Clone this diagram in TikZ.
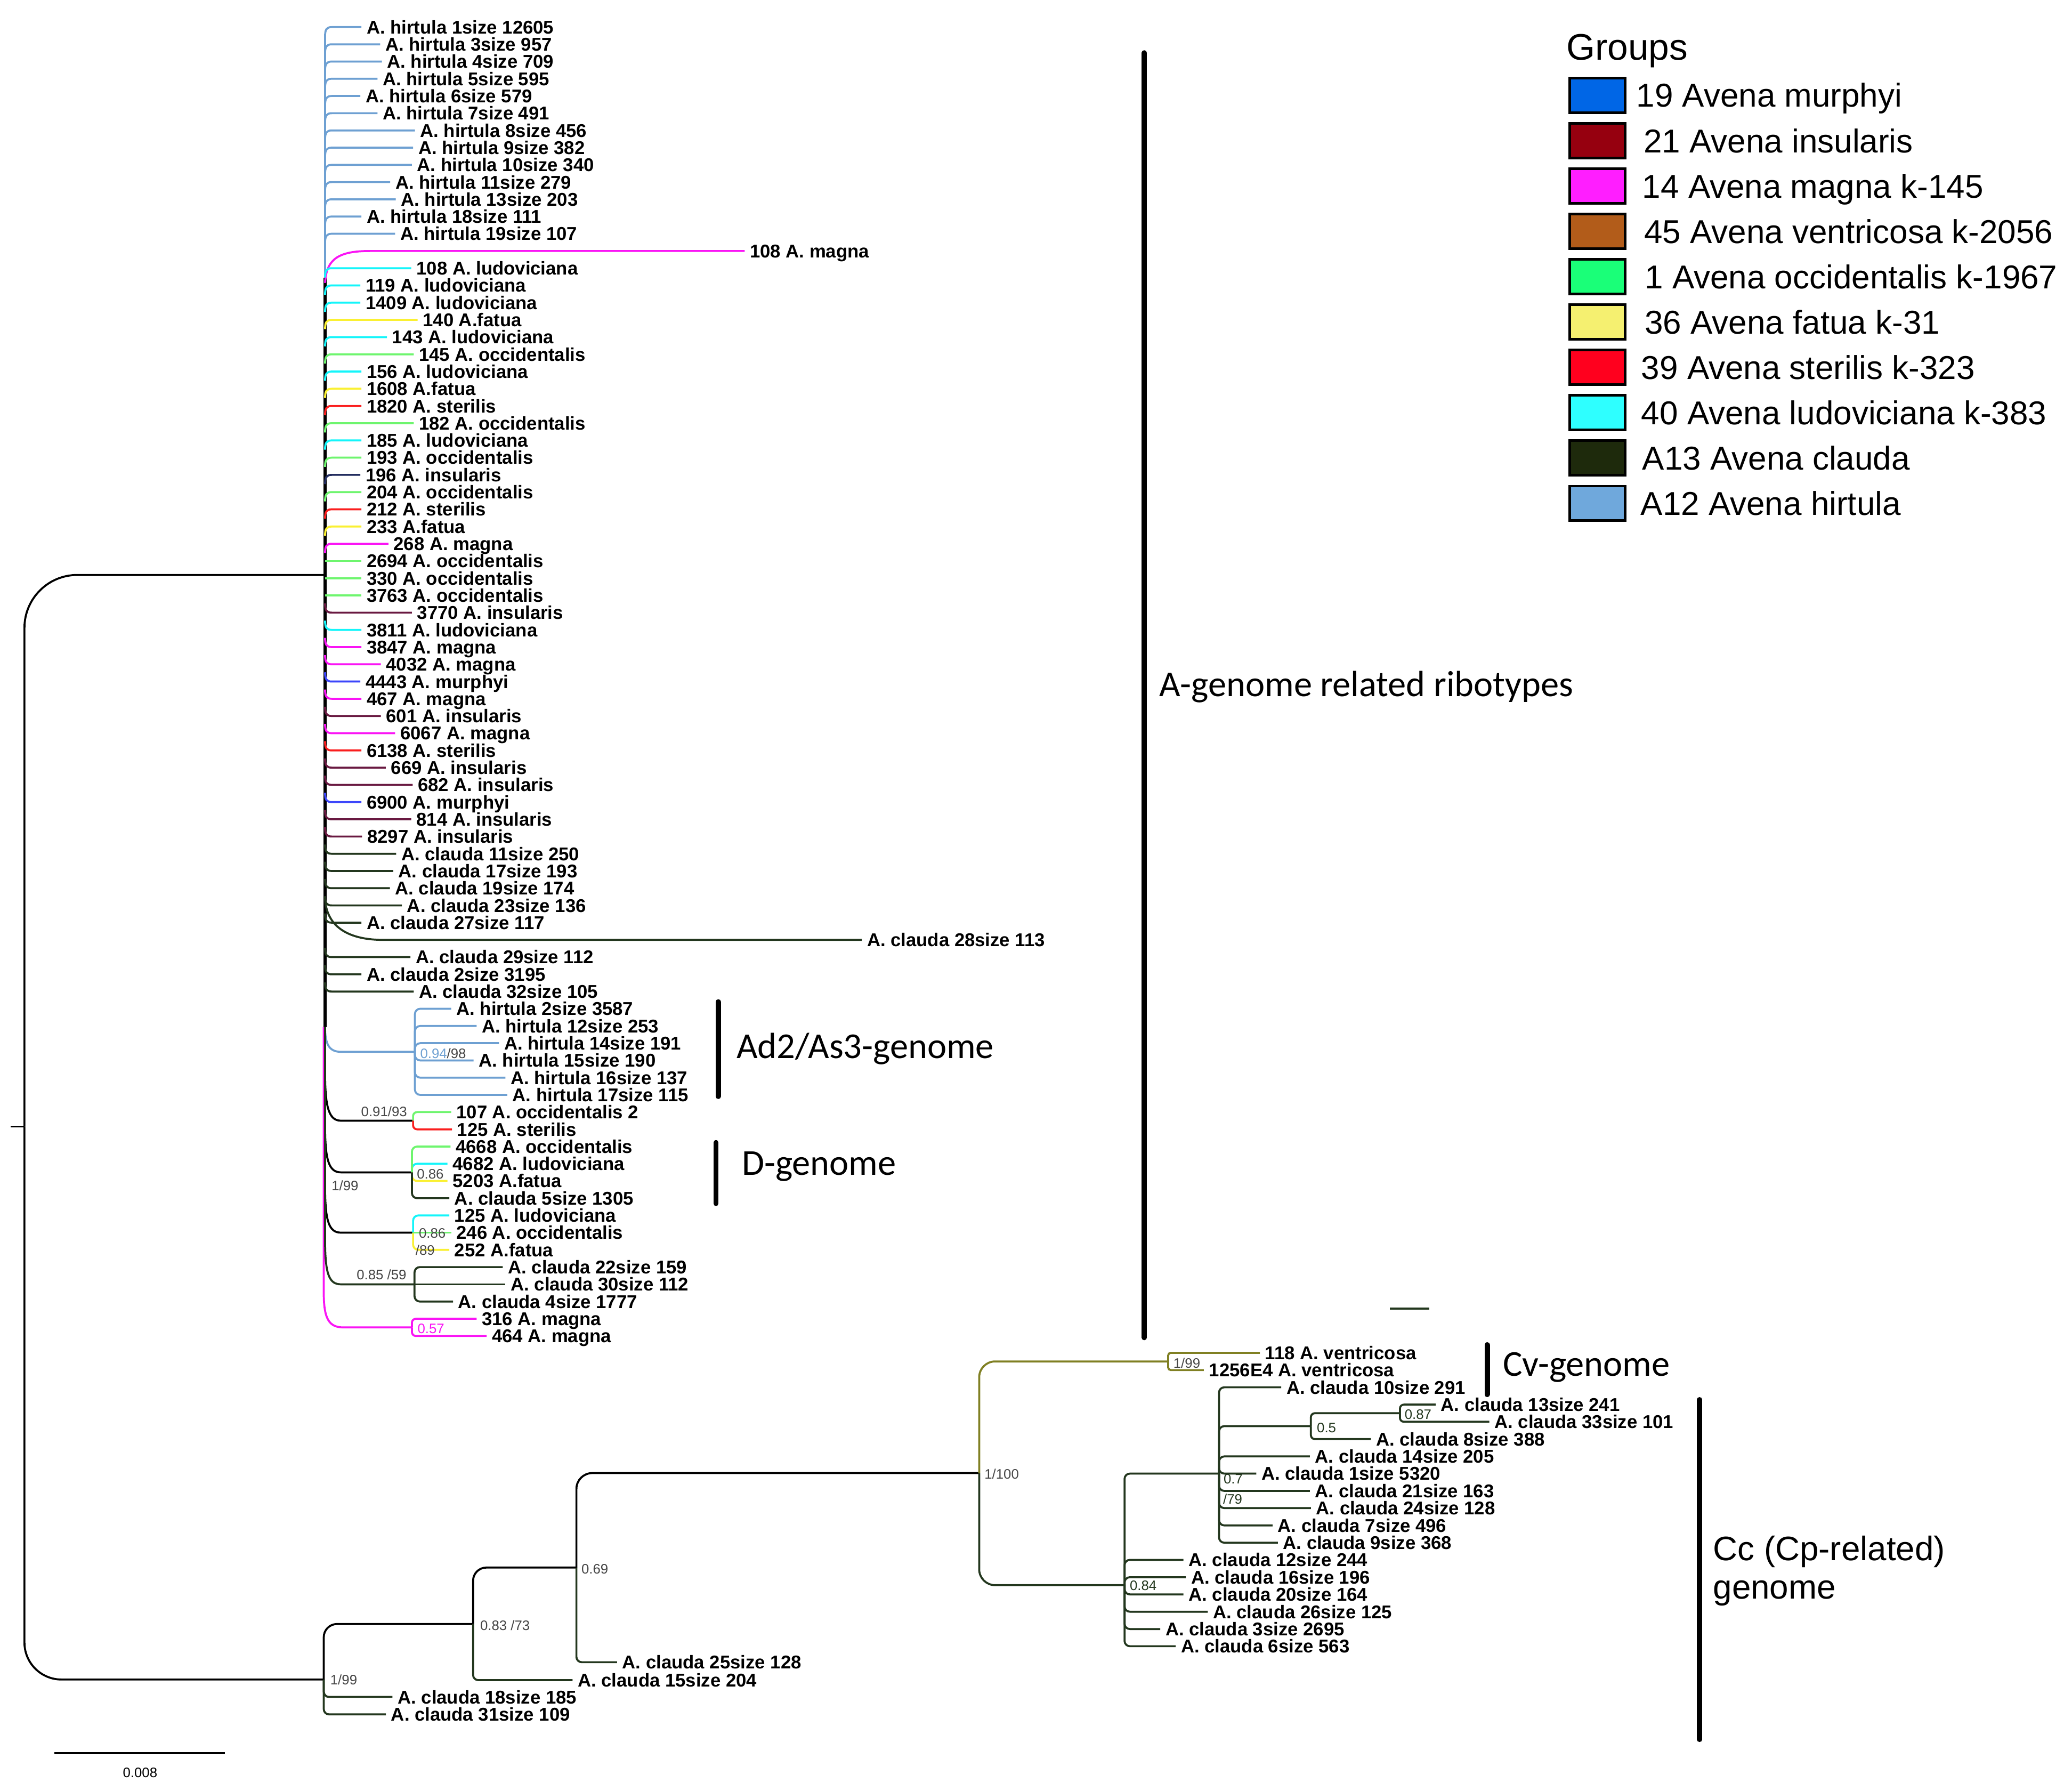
\documentclass[tikz,border=0pt]{standalone}
\usepackage{fontspec}
\setmainfont{Liberation Sans}
\newfontfamily\carl{Carlito}
\definecolor{hirt}{RGB}{110,160,210}
\definecolor{cyn}{RGB}{20,245,250}
\definecolor{yel}{RGB}{250,240,50}
\definecolor{grn}{RGB}{110,245,110}
\definecolor{rd}{RGB}{250,30,30}
\definecolor{mag}{RGB}{250,20,245}
\definecolor{cnavy}{RGB}{35,45,95}
\definecolor{insul}{RGB}{105,25,65}
\definecolor{murph}{RGB}{60,70,250}
\definecolor{cgrn}{RGB}{35,55,30}
\definecolor{oliv}{RGB}{128,128,35}
\definecolor{supg}{RGB}{70,70,70}
\definecolor{L1}{RGB}{0,102,230}
\definecolor{L2}{RGB}{150,0,15}
\definecolor{L3}{RGB}{255,30,255}
\definecolor{L4}{RGB}{178,92,26}
\definecolor{L5}{RGB}{26,255,120}
\definecolor{L6}{RGB}{245,240,112}
\definecolor{L7}{RGB}{255,0,30}
\definecolor{L8}{RGB}{46,255,255}
\definecolor{L9}{RGB}{30,42,12}
\definecolor{L10}{RGB}{111,168,220}
\newcommand\lfont{\bfseries\fontsize{7}{8}\selectfont}
\newcommand\sfontx{\fontsize{5.2}{6}\selectfont}
\tikzset{
 br/.style={line width=0.75pt},
 lab/.style={font=\lfont, anchor=west, inner xsep=2pt, inner ysep=0pt, outer sep=0pt, text height=6.41pt, text depth=1.4pt},
 supp/.style={font=\sfontx, text=supg, inner sep=0pt, outer sep=0pt, anchor=west, text height=3.72pt, text depth=0pt},
 gbar/.style={line width=2pt, line cap=round},
 big/.style={font=\carl\fontsize{13.8}{16}\selectfont, anchor=west, inner sep=0pt, text height=11.9pt, text depth=3pt},
 legt/.style={font=\fontsize{12.5}{14}\selectfont, anchor=west, inner sep=0pt, text height=11.45pt, text depth=2.5pt},
 swatch/.style={draw=black, line width=1pt, minimum width=21pt, minimum height=13pt, inner sep=0pt},
}
\newcommand\Aleaf[5]{%
  \pgfmathsetmacro\yy{20.5+13.03*#2}%
  \node[lab] (#1) at (#3,\yy) {#5};%
  \pgfmathtruncatemacro\side{\yy<415 ? 1 : (\yy>455 ? -1 : 0)}%
  \ifnum\side=0
    \draw[br,#4] (246,\yy) -- (#1.west);%
  \else
    \draw[br,#4] (246,{\yy+7*\side}) .. controls (246,{\yy+2*\side}) and (247,\yy) .. (251,\yy) -- (#1.west);%
  \fi}
\newcommand\Lf[4]{\node[lab] (#1) at (#2,#3) {#4};}
\begin{document}
\begin{tikzpicture}[x=0.5pt,y=-0.5pt]
\useasboundingbox (0,0) rectangle (1568,1355);
\fill[white] (0,0) rectangle (1568,1355);

% ---------- coordinates of inner nodes ----------
\coordinate (stub) at (8,852.3);
\coordinate (nR) at (18.5,852.3);
\coordinate (nA) at (246,435);
\coordinate (vHt) at (246,26);
\coordinate (vHb) at (246,212);
\coordinate (vBt) at (246,210);
\coordinate (vBb) at (246,777);
\coordinate (vM) at (245,777);
\coordinate (nAd) at (314,795.8);
\coordinate (n91) at (312.6,847.9);
\coordinate (nD) at (311.7,887);
\coordinate (n86) at (312.6,932.6);
\coordinate (n85) at (313.7,971.7);
\coordinate (n57) at (311.7,1004.3);
\coordinate (n99b) at (245,1270.7);
\coordinate (n83) at (358,1228.7);
\coordinate (n69) at (436.2,1186);
\coordinate (n100) at (741,1114.5);
\coordinate (nCv) at (884,1030.05);
\coordinate (n84) at (851,1199.3);
\coordinate (n7) at (922.5,1114.9);
\coordinate (n5) at (992,1079);
\coordinate (n87) at (1059.4,1069.2);

% ---------- root ----------
\draw[br] (stub) -- (nR);
\draw[br,rounded corners=20pt] (nR) |- (nA);
\draw[br,rounded corners=14pt] (nR) |- (n99b);

% ---------- A clade verticals ----------
\draw[line width=0.95pt,hirt] (vHt) -- (vHb);
\draw[line width=1.25pt] (vBt) -- (vBb);

% ---------- A clade leaves ----------
\Aleaf{h1}{0}{273.5}{hirt}{A. hirtula 1size 12605}
\Aleaf{h3}{1}{287.7}{hirt}{A. hirtula 3size 957}
\Aleaf{h4}{2}{289}{hirt}{A. hirtula 4size 709}
\Aleaf{h5}{3}{285.7}{hirt}{A. hirtula 5size 595}
\Aleaf{h6}{4}{272.7}{hirt}{A. hirtula 6size 579}
\Aleaf{h7}{5}{285.7}{hirt}{A. hirtula 7size 491}
\Aleaf{h8}{6}{314}{hirt}{A. hirtula 8size 456}
\Aleaf{h9}{7}{312.6}{hirt}{A. hirtula 9size 382}
\Aleaf{h10}{8}{311.7}{hirt}{A. hirtula 10size 340}
\Aleaf{h11}{9}{295.3}{hirt}{A. hirtula 11size 279}
\Aleaf{h13}{10}{299.5}{hirt}{A. hirtula 13size 203}
\Aleaf{h18}{11}{273.5}{hirt}{A. hirtula 18size 111}
\Aleaf{h19}{12}{299}{hirt}{A. hirtula 19size 107}
\node[lab] (m108) at (563.5,189.9) {108 A. magna};
\draw[br,mag] (246,214) .. controls (247,196) and (256,189.9) .. (280,189.9) -- (m108.west);
\Aleaf{l108}{14}{311.2}{cyn}{108 A. ludoviciana}
\Aleaf{l119}{15}{272.7}{cyn}{119 A. ludoviciana}
\Aleaf{l1409}{16}{272.7}{cyn}{1409 A. ludoviciana}
\Aleaf{f140}{17}{316}{yel}{140 A.fatua}
\Aleaf{l143}{18}{292.8}{cyn}{143 A. ludoviciana}
\Aleaf{o145}{19}{313.1}{grn}{145 A. occidentalis}
\Aleaf{l156}{20}{273.5}{cyn}{156 A. ludoviciana}
\Aleaf{f1608}{21}{273.5}{yel}{1608 A.fatua}
\Aleaf{s1820}{22}{273.5}{rd}{1820 A. sterilis}
\Aleaf{o182}{23}{313.1}{grn}{182 A. occidentalis}
\Aleaf{l185}{24}{273.5}{cyn}{185 A. ludoviciana}
\Aleaf{o193}{25}{273.5}{grn}{193 A. occidentalis}
\Aleaf{i196}{26}{272.7}{cnavy}{196 A. insularis}
\Aleaf{o204}{27}{273.5}{grn}{204 A. occidentalis}
\Aleaf{s212}{28}{273.5}{rd}{212 A. sterilis}
\Aleaf{f233}{29}{273.5}{yel}{233 A.fatua}
\Aleaf{m268}{30}{293.9}{mag}{268 A. magna}
\Aleaf{o2694}{31}{273.5}{grn}{2694 A. occidentalis}
\Aleaf{o330}{32}{273.5}{grn}{330 A. occidentalis}
\Aleaf{o3763}{33}{273.5}{grn}{3763 A. occidentalis}
\Aleaf{i3770}{34}{311.7}{insul}{3770 A. insularis}
\Aleaf{l3811}{35}{273.5}{cyn}{3811 A. ludoviciana}
\Aleaf{m3847}{36}{273.5}{mag}{3847 A. magna}
\Aleaf{m4032}{37}{288.2}{mag}{4032 A. magna}
\Aleaf{u4443}{38}{272.7}{murph}{4443 A. murphyi}
\Aleaf{m467}{39}{273.5}{mag}{467 A. magna}
\Aleaf{i601}{40}{288.2}{insul}{601 A. insularis}
\Aleaf{m6067}{41}{299}{mag}{6067 A. magna}
\Aleaf{s6138}{42}{273.5}{rd}{6138 A. sterilis}
\Aleaf{i669}{43}{291.9}{insul}{669 A. insularis}
\Aleaf{i682}{44}{312.3}{insul}{682 A. insularis}
\Aleaf{u6900}{45}{273.5}{murph}{6900 A. murphyi}
\Aleaf{i814}{46}{311.2}{insul}{814 A. insularis}
\Aleaf{i8297}{47}{274}{insul}{8297 A. insularis}
\Aleaf{ca11}{48}{299.8}{cgrn}{A. clauda 11size 250}
\Aleaf{ca17}{49}{297.6}{cgrn}{A. clauda 17size 193}
\Aleaf{ca19}{50}{295.1}{cgrn}{A. clauda 19size 174}
\Aleaf{ca23}{51}{304.1}{cgrn}{A. clauda 23size 136}
\Aleaf{ca27}{52}{273.5}{cgrn}{A. clauda 27size 117}
\node[lab] (ca28) at (652.2,711.1) {A. clauda 28size 113};
\draw[br,cgrn] (246,680) .. controls (247,700) and (262,711.1) .. (290,711.1) -- (ca28.west);
\Aleaf{ca29}{54}{310.6}{cgrn}{A. clauda 29size 112}
\Aleaf{ca2}{55}{273.5}{cgrn}{A. clauda 2size 3195}
\Aleaf{ca32}{56}{313.1}{cgrn}{A. clauda 32size 105}

% ---------- sub-clades of A ----------
\draw[br,mag] (vM) -- (245,978) .. controls (245,998) and (249,1004.3) .. (260,1004.3) -- (n57);
\draw[br,hirt] (vBb) .. controls (246,790) and (249,795.8) .. (258,795.8) -- (nAd);
\draw[br] (vBb) -- (246,812) .. controls (246,838) and (249,847.9) .. (258,847.9) -- (n91);
\draw[br] (vBb) -- (246,852) .. controls (246,878) and (249,887) .. (258,887) -- (nD);
\draw[br] (vBb) -- (246,898) .. controls (246,924) and (249,932.6) .. (258,932.6) -- (n86);
\draw[br,cgrn] (vBb) -- (246,938) .. controls (246,964) and (249,971.7) .. (258,971.7) -- (n85);

% Ad2/As3
\Lf{h2}{341.4}{763.21}{A. hirtula 2size 3587}
\Lf{h12}{360.7}{776.24}{A. hirtula 12size 253}
\Lf{h14}{377.6}{789.27}{A. hirtula 14size 191}
\Lf{h15}{358.4}{802.30}{A. hirtula 15size 190}
\Lf{h16}{382.5}{815.33}{A. hirtula 16size 137}
\Lf{h17}{383.9}{828.36}{A. hirtula 17size 115}
\foreach \c in {h14,h15,h12,h16,h2,h17}
  \draw[br,hirt,rounded corners=2pt] (nAd) |- (\c.west);
\node[supp] (sAd) at (318,797) {{\color{hirt}0.94}/98};

% 0.91/93
\Lf{o107}{341.4}{841.39}{107 A. occidentalis 2}
\Lf{s125}{342}{854.42}{125 A. sterilis}
\draw[br,grn,rounded corners=1.5pt] (n91) |- (o107.west);
\draw[br,rd,rounded corners=1.5pt] (n91) |- (s125.west);
\node[supp,anchor=east] (s91) at (308,841) {0.91/93};

% D-genome clade
\Lf{o4668}{340.9}{867.45}{4668 A. occidentalis}
\Lf{l4682}{338.6}{880.48}{4682 A. ludoviciana}
\Lf{f5203}{338.6}{893.51}{5203 A.fatua}
\Lf{ca5}{340}{906.54}{A. clauda 5size 1305}
\draw[br,cyn,rounded corners=2pt] (nD) |- (l4682.west);
\draw[br,yel,rounded corners=2pt] (nD) |- (f5203.west);
\draw[br,grn,rounded corners=2pt] (nD) |- (o4668.west);
\draw[br,cgrn,rounded corners=2pt] (nD) |- (ca5.west);
\node[supp] (sD) at (315.5,888) {0.86};
\node[supp] (s199) at (251,897) {1/99};

% 0.86/89 clade
\Lf{l125}{340}{919.57}{125 A. ludoviciana}
\Lf{o246}{341.4}{932.60}{246 A. occidentalis}
\Lf{f252}{340}{945.63}{252 A.fatua}
\draw[br,cyn,rounded corners=2pt] (n86) |- (l125.west);
\draw[br,yel,rounded corners=2pt] (n86) |- (f252.west);
\draw[br,grn] (n86) |- (o246.west);
\node[supp] (s86) at (317,933) {0.86};
\node[supp] (s89) at (314.5,946) {/89};

% 0.85/59 clade
\Lf{ca22}{380.5}{958.66}{A. clauda 22size 159}
\Lf{ca30}{382.5}{971.69}{A. clauda 30size 112}
\Lf{ca4}{342.8}{984.72}{A. clauda 4size 1777}
\draw[br,cgrn,rounded corners=2pt] (n85) |- (ca22.west);
\draw[br,cgrn] (n85) |- (ca30.west);
\draw[br,cgrn,rounded corners=2pt] (n85) |- (ca4.west);
\node[supp,anchor=east] (s85) at (307.5,964.3) {0.85 /59};

% 0.57 clade
\Lf{m316}{360.7}{997.75}{316 A. magna}
\Lf{m464}{368.3}{1010.78}{464 A. magna}
\draw[br,mag,rounded corners=1.5pt] (n57) |- (m316.west);
\draw[br,mag,rounded corners=1.5pt] (n57) |- (m464.west);
\node[supp,text=mag] (s57) at (316,1005) {0.57};

% ---------- bottom backbone ----------
\Lf{c25}{467}{1257.6}{A. clauda 25size 128}
\Lf{c15}{433.3}{1271.2}{A. clauda 15size 204}
\Lf{c18}{297}{1283.9}{A. clauda 18size 185}
\Lf{c31}{292}{1297.1}{A. clauda 31size 109}
\draw[br,cgrn,rounded corners=2pt] (n99b) |- (c18.west);
\draw[br,cgrn,rounded corners=2pt] (n99b) |- (c31.west);
\draw[br,rounded corners=5pt] (n99b) |- (n83);
\draw[br,cgrn,rounded corners=2pt] (n83) |- (c15.west);
\draw[br,rounded corners=5pt] (n83) |- (n69);
\draw[br,cgrn,rounded corners=2pt] (n69) |- (c25.west);
\draw[br,rounded corners=6pt] (n69) |- (n100);
\node[supp] (s99b) at (250,1270.7) {1/99};
\node[supp] (s83) at (363.4,1229.6) {0.83 /73};
\node[supp] (s69) at (440,1187) {0.69};

% ---------- C clade ----------
\Lf{v118}{953.4}{1023.5}{118 A. ventricosa}
\Lf{v1256}{911}{1036.6}{1256E4 A. ventricosa}
\Lf{cc10}{969.6}{1049.6}{A. clauda 10size 291}
\Lf{cc13}{1086.4}{1062.7}{A. clauda 13size 241}
\Lf{cc33}{1127}{1075.7}{A. clauda 33size 101}
\Lf{cc8}{1037.4}{1088.8}{A. clauda 8size 388}
\Lf{cc14}{991.2}{1101.9}{A. clauda 14size 205}
\Lf{cc1}{950.7}{1114.9}{A. clauda 1size 5320}
\Lf{cc21}{991.2}{1128.0}{A. clauda 21size 163}
\Lf{cc24}{992}{1141.0}{A. clauda 24size 128}
\Lf{cc7}{963}{1154.1}{A. clauda 7size 496}
\Lf{cc9}{967}{1167.2}{A. clauda 9size 368}
\Lf{cc12}{895.5}{1180.2}{A. clauda 12size 244}
\Lf{cc16}{897.4}{1193.3}{A. clauda 16size 196}
\Lf{cc20}{895.5}{1206.3}{A. clauda 20size 164}
\Lf{cc26}{914}{1219.4}{A. clauda 26size 125}
\Lf{cc3}{878}{1232.5}{A. clauda 3size 2695}
\Lf{cc6}{889.7}{1245.5}{A. clauda 6size 563}

\draw[br,cgrn,rounded corners=6pt] (n100) |- (n84);
\draw[br,oliv,rounded corners=6pt] (n100) |- (nCv);
\draw[br,oliv,rounded corners=1pt] (nCv) |- (v118.west);
\draw[br,oliv,rounded corners=1pt] (nCv) |- (v1256.west);
\foreach \c in {cc12,cc16,cc20,cc26,cc3,cc6}
  \draw[br,cgrn,rounded corners=2pt] (n84) |- (\c.west);
\draw[br,cgrn,rounded corners=2pt] (n84) |- (n7);
\foreach \c in {cc10,cc14,cc1,cc21,cc24,cc7,cc9}
  \draw[br,cgrn,rounded corners=2pt] (n7) |- (\c.west);
\draw[br,cgrn,rounded corners=2pt] (n7) |- (n5);
\draw[br,cgrn,rounded corners=1.5pt] (n5) |- (n87);
\draw[br,cgrn,rounded corners=1.5pt] (n5) |- (cc8.west);
\draw[br,cgrn,rounded corners=1.5pt] (n87) |- (cc13.west);
\draw[br,cgrn,rounded corners=1.5pt] (n87) |- (cc33.west);

\node[supp] (s100) at (745,1115.3) {1/100};
\node[supp] (sCv) at (888,1031.5) {1/99};
\node[supp,text=cgrn] (s87) at (1063,1070) {0.87};
\node[supp,text=cgrn] (s5) at (996.6,1080) {0.5};
\node[supp,text=cgrn] (s7) at (926,1119) {0.7};
\node[supp,text=cgrn] (s79) at (925.6,1134) {/79};
\node[supp,text=cgrn] (s84) at (855,1199.3) {0.84};

% ---------- genome bars and names ----------
\coordinate (bA1) at (866,40);  \coordinate (bA2) at (866,1012);
\coordinate (bAd1) at (543.5,758); \coordinate (bAd2) at (543.5,829.5);
\coordinate (bD1) at (541.8,864.5); \coordinate (bD2) at (541.8,910.5);
\coordinate (bCv1) at (1125.4,1017.5); \coordinate (bCv2) at (1125.4,1055);
\coordinate (bCc1) at (1286.2,1059); \coordinate (bCc2) at (1286.2,1316);
\draw[gbar] (bA1) -- (bA2);
\draw[gbar] (bAd1) -- (bAd2);
\draw[gbar] (bD1) -- (bD2);
\draw[gbar] (bCv1) -- (bCv2);
\draw[gbar] (bCc1) -- (bCc2);
\node[big] (tA) at (877,518) {A-genome related ribotypes};
\node[big] (tAd) at (557,792) {Ad2/As3-genome};
\node[big] (tD) at (561,880) {D-genome};
\node[big] (tCv) at (1137,1032) {Cv-genome};
\node[font=\fontsize{12.85}{14.5}\selectfont, anchor=north west, inner sep=0pt, align=left] (tCc) at (1296,1161.5) {Cc (Cp-related)\\genome};

% small dash
\coordinate (d1) at (1051.8,990); \coordinate (d2) at (1081.6,990);
\draw[line width=0.8pt,cgrn] (d1) -- (d2);

% scale bar
\coordinate (sb1) at (41,1326.3); \coordinate (sb2) at (170,1326.3);
\draw[line width=0.9pt] (sb1) -- (sb2);
\node[supp,anchor=center,text=black] (sbl) at (106,1341) {0.008};

% ---------- legend ----------
\node[font=\fontsize{14}{16}\selectfont, anchor=west, inner sep=0pt, text height=12pt, text depth=2.8pt] (lg) at (1185,36) {Groups};
\node[swatch,fill=L1] (q1) at (1209,72.1) {};
\node[swatch,fill=L2] (q2) at (1209,106.4) {};
\node[swatch,fill=L3] (q3) at (1209,140.7) {};
\node[swatch,fill=L4] (q4) at (1209,175.0) {};
\node[swatch,fill=L5] (q5) at (1209,209.3) {};
\node[swatch,fill=L6] (q6) at (1209,243.6) {};
\node[swatch,fill=L7] (q7) at (1209,277.9) {};
\node[swatch,fill=L8] (q8) at (1209,312.2) {};
\node[swatch,fill=L9] (q9) at (1209,346.5) {};
\node[swatch,fill=L10] (q10) at (1209,380.8) {};
\node[legt] (t1) at (1238,72.1) {19 Avena murphyi};
\node[legt] (t2) at (1243.5,106.4) {21 Avena insularis};
\node[legt] (t3) at (1242.5,140.7) {14 Avena magna k-145};
\node[legt] (t4) at (1243.8,175.0) {45 Avena ventricosa k-2056};
\node[legt] (t5) at (1244.3,209.3) {1 Avena occidentalis k-1967};
\node[legt] (t6) at (1244.3,243.6) {36 Avena fatua k-31};
\node[legt] (t7) at (1241.7,277.9) {39 Avena sterilis k-323};
\node[legt] (t8) at (1241.7,312.2) {40 Avena ludoviciana k-383};
\node[legt] (t9) at (1242.5,346.5) {A13 Avena clauda};
\node[legt] (t10) at (1241.2,380.8) {A12 Avena hirtula};
\end{tikzpicture}
\end{document}
